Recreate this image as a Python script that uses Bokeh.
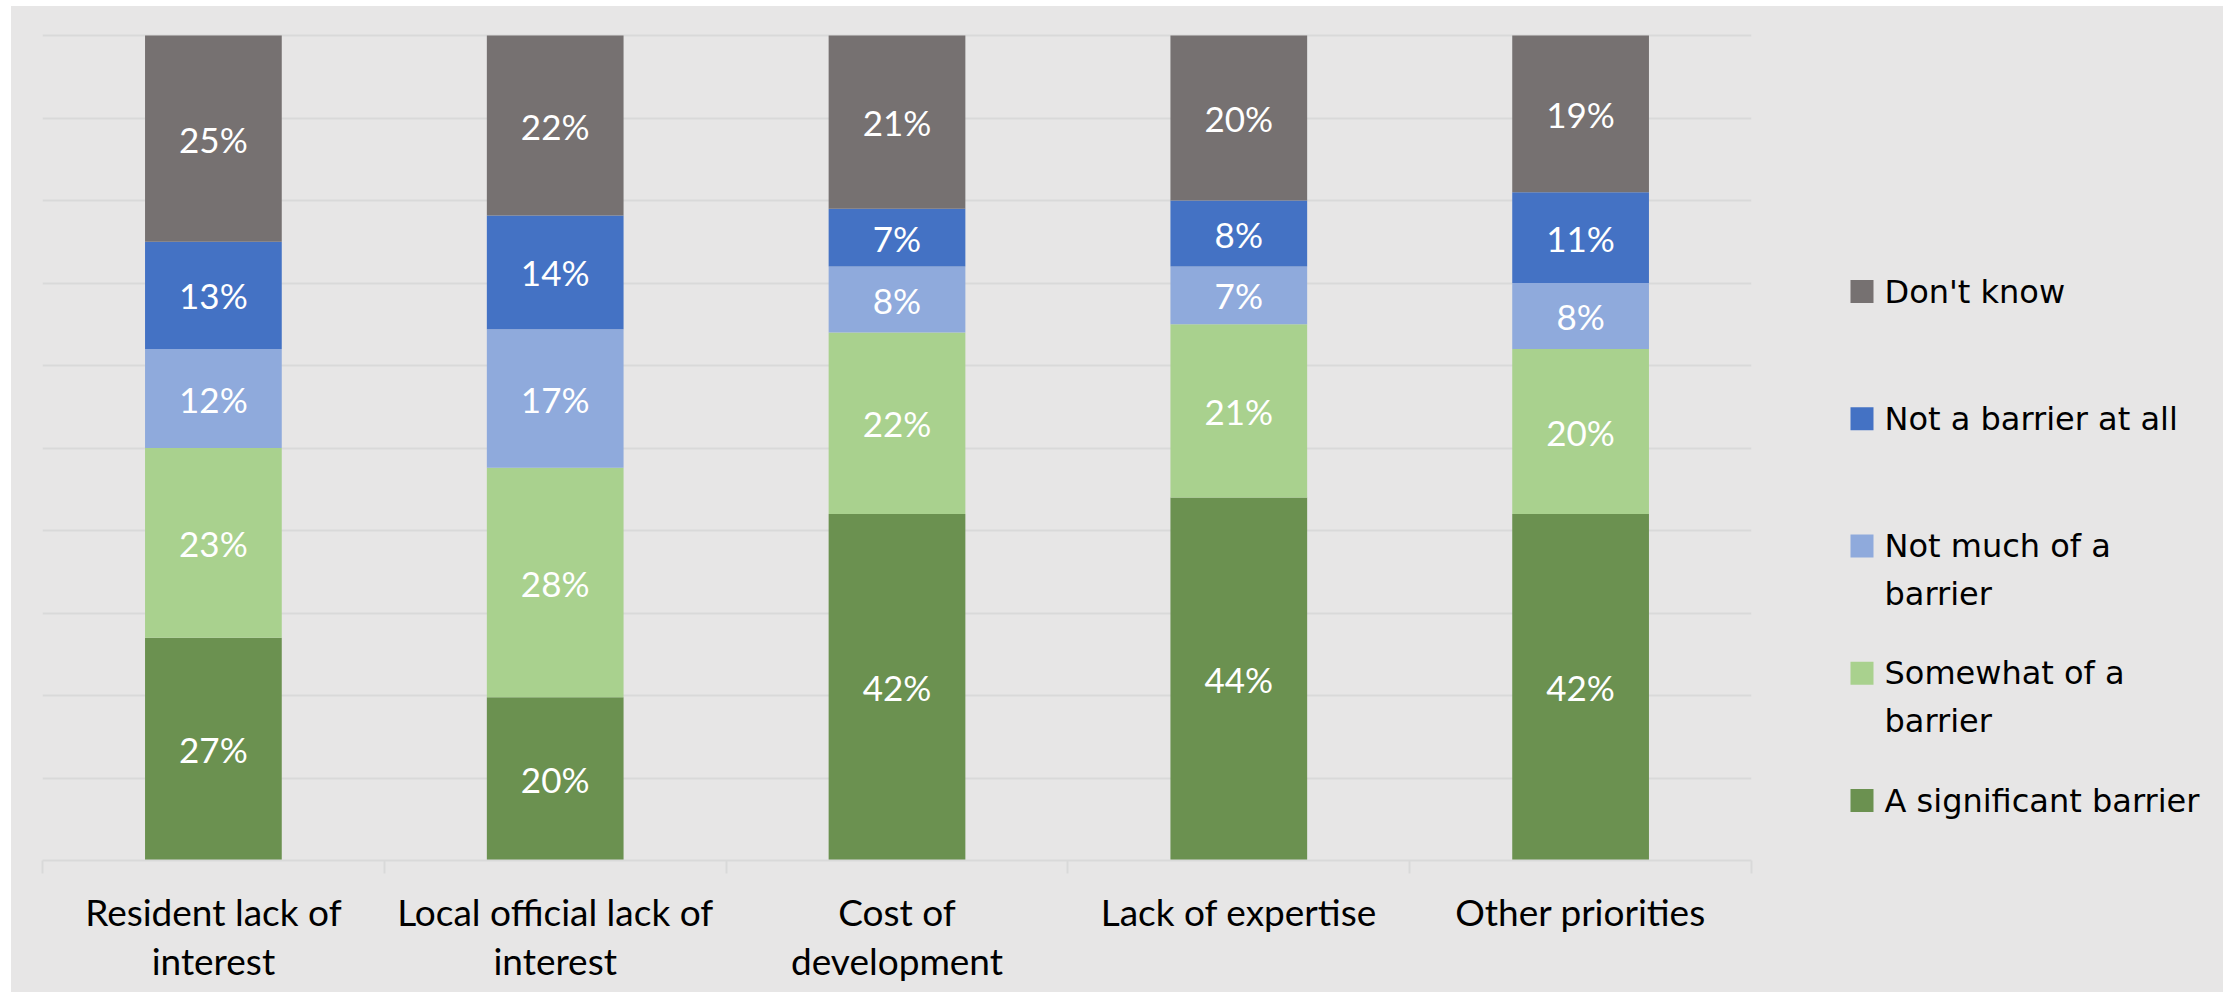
from bokeh.plotting import figure
from bokeh.models import ColumnDataSource, Range1d, FixedTicker
from bokeh.layouts import row
from bokeh.core.properties import value
from bokeh.embed import file_html
from bokeh.resources import INLINE

# ---------------- data ----------------
categories = ["Resident lack of\ninterest", "Local official lack of\ninterest",
              "Cost of\ndevelopment", "Lack of expertise", "Other priorities"]
series = ["A significant barrier", "Somewhat of a barrier", "Not much of a barrier",
          "Not a barrier at all", "Don't know"]
legend_labels = ["A significant barrier", "Somewhat of a\nbarrier", "Not much of a\nbarrier",
                 "Not a barrier at all", "Don't know"]
significant = [27, 19.8, 42, 44, 42]
somewhat = [23, 27.8, 22, 21, 20]
not_much = [12, 16.8, 8, 7, 8]
not_at_all = [13, 13.8, 7, 8, 11]
dont_know = [25, 21.8, 21, 20, 19]
colors = ["#6B9150", "#A9D18E", "#8FAADC", "#4472C4", "#767171"]

values = [significant, somewhat, not_much, not_at_all, dont_know]
keys = ["s0", "s1", "s2", "s3", "s4"]

BG = "#E7E6E6"
GRID = "#D9D9D9"

n = len(categories)
xs = [i + 0.5 for i in range(n)]
data = {"x": xs}
for k, v in zip(keys, values):
    data[k] = v
src = ColumnDataSource(data)

# ---------------- layout constants ----------------
W_TOTAL = 2212
H = 986
W_MAIN = 1759
B_LEFT, B_RIGHT, B_TOP, B_BOTTOM = 31, 19, 25, 132

# ---------------- main figure ----------------
p = figure(width=W_MAIN, height=H, x_range=Range1d(0, n), y_range=Range1d(0, 100.5),
           output_backend="svg", toolbar_location=None,
           min_border_left=B_LEFT, min_border_right=B_RIGHT,
           min_border_top=B_TOP, min_border_bottom=B_BOTTOM)
p.background_fill_color = BG
p.border_fill_color = BG
p.outline_line_color = None
p.yaxis.visible = False
p.xgrid.visible = False
p.ygrid.ticker = FixedTicker(ticks=list(range(0, 101, 10)))
p.ygrid.grid_line_color = GRID
p.ygrid.grid_line_width = 2

p.vbar_stack(keys, x="x", width=0.4, color=colors, source=src, line_color=None)

# data labels
lx, ly, lt = [], [], []
for i in range(n):
    base = 0.0
    for v in values:
        val = v[i]
        lx.append(xs[i])
        ly.append(base + val / 2.0)
        lt.append(f"{round(val)}%")
        base += val
p.text(x=lx, y=ly, text=lt, text_align="center", text_baseline="middle",
       text_font=value("Lato"), text_font_size="35px", text_color="white")

ax = p.xaxis[0]
ax.ticker = FixedTicker(ticks=xs, minor_ticks=list(range(0, n + 1)))
ax.major_label_overrides = {x: c for x, c in zip(xs, categories)}
ax.major_tick_line_color = None
ax.major_tick_out = 0
ax.major_tick_in = 0
ax.minor_tick_line_color = GRID
ax.minor_tick_line_width = 2
ax.minor_tick_out = 13
ax.minor_tick_in = 0
ax.axis_line_color = GRID
ax.axis_line_width = 2
ax.major_label_text_font = "Lato"
ax.major_label_text_font_size = "37px"
ax.major_label_text_line_height = 1.1
ax.major_label_text_color = "black"
ax.major_label_standoff = 15

# ---------------- legend figure ----------------
W_LEG = W_TOTAL - W_MAIN
q = figure(width=W_LEG, height=H, x_range=Range1d(0, W_LEG),
           y_range=Range1d(H - B_BOTTOM, B_TOP),
           output_backend="svg", toolbar_location=None,
           min_border_left=0, min_border_right=0,
           min_border_top=B_TOP, min_border_bottom=B_BOTTOM)
q.background_fill_color = BG
q.border_fill_color = BG
q.outline_line_color = None
q.axis.visible = False
q.grid.visible = False

row_top = 285
row_step = 127.25
line_step = 48
sq_x, sq_y, sq_c = [], [], []
tx, ty, tt = [], [], []
order = list(range(len(series)))[::-1]
for r, si in enumerate(order):
    yc = row_top + r * row_step
    sq_x.append(91.5)
    sq_y.append(yc)
    sq_c.append(colors[si])
    for li, line in enumerate(legend_labels[si].split("\n")):
        tx.append(114)
        ty.append(yc + li * line_step)
        tt.append(line)
q.rect(x=sq_x, y=sq_y, width=23, height=23, color=sq_c, line_color=None)
q.text(x=tx, y=ty, text=tt, text_align="left", text_baseline="middle",
       text_font=value("DejaVu Sans"), text_font_size="32px", text_color="black")

layout = row(p, q, spacing=0, margin=(6, 0, 0, 11), styles={"background-color": BG})
open("out.html", "w").write(file_html(layout, INLINE))
